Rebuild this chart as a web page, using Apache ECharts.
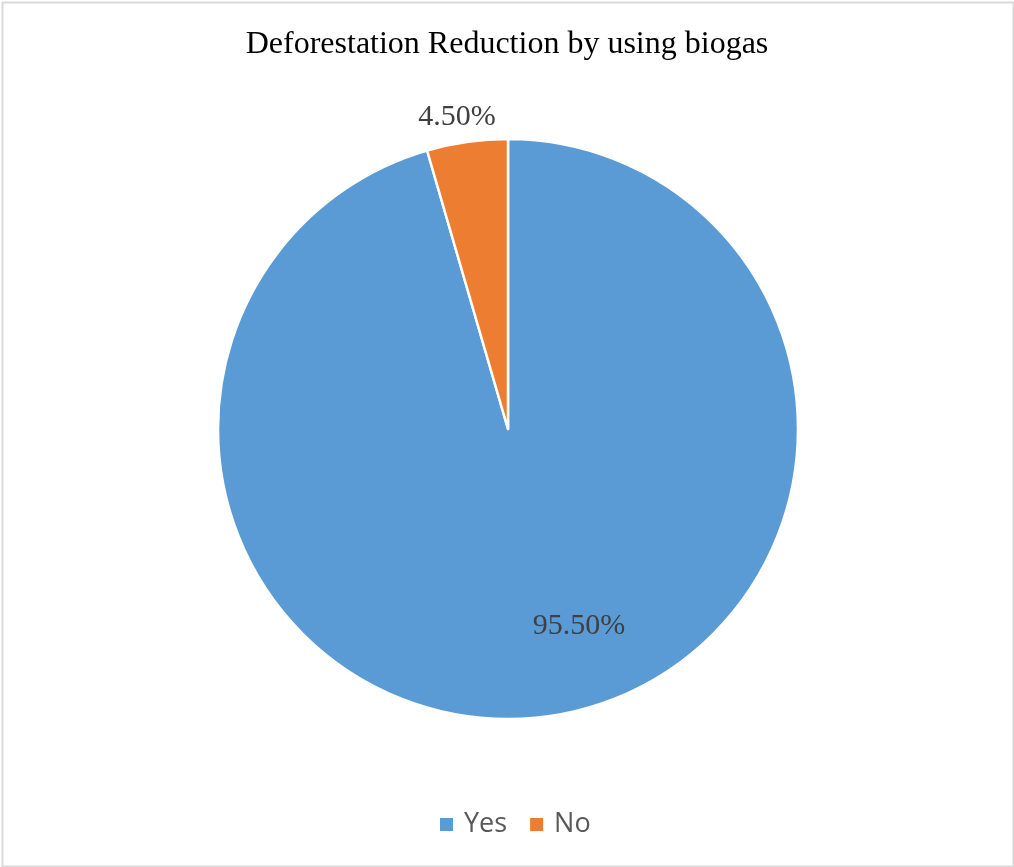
<!DOCTYPE html>
<html>
<head>
<meta charset="utf-8">
<script src="https://cdn.jsdelivr.net/npm/echarts@6/dist/echarts.min.js"></script>
<style>
html,body{margin:0;padding:0;background:#fff;}
#chart{width:1014px;height:867px;}
</style>
</head>
<body>
<div id="chart"></div>
<script>
const titleText = "Deforestation Reduction by using biogas";
const categories = ["Yes", "No"];
const values = [95.5, 4.5];
const colors = ["#5B9BD5", "#ED7D31"];

const chart = echarts.init(document.getElementById('chart'), null, {renderer: 'canvas'});

const cx = 508, cy = 429, r = 290;
// label anchor positions (relative offsets from pie center, in px)
const labelOffsets = [[71, 197], [-51, -312]];

const option = {
  backgroundColor: '#ffffff',
  animation: false,
  title: {
    text: titleText,
    left: 'center',
    top: 24,
    textStyle: {fontFamily: 'Liberation Serif', fontWeight: 'normal', fontSize: 32, color: '#000000'}
  },
  legend: {
    bottom: 24,
    left: 435,
    icon: 'rect',
    itemWidth: 13,
    itemHeight: 13,
    itemGap: 23,
    itemStyle: {borderWidth: 0},
    textStyle: {fontFamily: 'Open Sans', fontSize: 27, color: '#595959', padding: [0, 0, 0, 6]},
    data: categories
  },
  graphic: [{
    type: 'rect',
    left: 0, top: 0,
    shape: {x: 1, y: 1, width: 1011, height: 864},
    style: {fill: 'none', stroke: '#d9d9d9', lineWidth: 2},
    silent: true
  }],
  series: [{
    type: 'pie',
    center: [cx, cy],
    radius: [0, r],
    startAngle: 90,
    clockwise: true,
    avoidLabelOverlap: false,
    itemStyle: {borderColor: '#ffffff', borderWidth: 2.5},
    label: {
      show: true,
      position: 'inside',
      formatter: p => p.value.toFixed(2) + '%',
      fontFamily: 'Liberation Serif',
      fontSize: 30,
      color: '#404040'
    },
    labelLine: {show: false},
    labelLayout: function (params) {
      const o = labelOffsets[params.dataIndex];
      return {x: cx + o[0], y: cy + o[1], align: 'center', verticalAlign: 'middle'};
    },
    emphasis: {disabled: true},
    data: categories.map((c, i) => ({name: c, value: values[i], itemStyle: {color: colors[i]}}))
  }]
};
chart.setOption(option);
</script>
</body>
</html>
